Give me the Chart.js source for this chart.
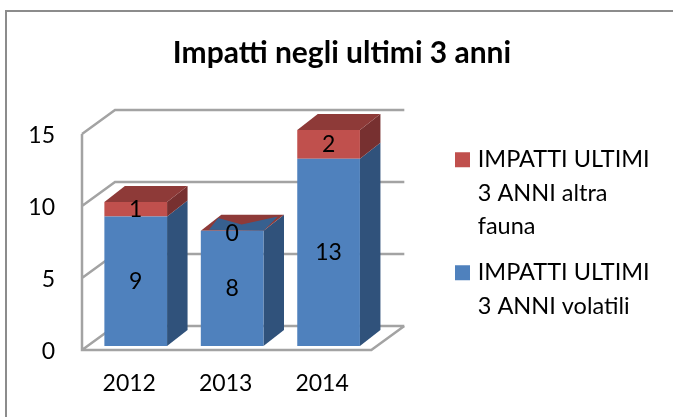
<!DOCTYPE html>
<html><head><meta charset="utf-8">
<style>html,body{margin:0;padding:0;background:#fff;overflow:hidden}canvas{display:block}</style>
<script src="https://cdn.jsdelivr.net/npm/chart.js@4"></script>
</head><body>
<div style="width:673px;height:417px"><canvas id="c" width="673" height="417"></canvas></div>
<script>
const titleText = 'Impatti negli ultimi 3 anni';
const categories = ['2012', '2013', '2014'];
const volatili = [9, 8, 13];
const altraFauna = [1, 0, 2];
const volatiliLegend = ['IMPATTI ULTIMI', '3 ANNI volatili'];
const altraLegend = ['IMPATTI ULTIMI', '3 ANNI altra', 'fauna'];
const yTicks = [0, 5, 10, 15];
const FONT = 'Lato, Carlito, Calibri, sans-serif';

const DEPTH_W = {dx: 33, dy: -24};   // wall depth
const DEPTH_B = {dx: 20.5, dy: -16}; // bar depth
const SHIFT = {dx: 5.5, dy: -4};     // bars sit inside the floor

function poly(ctx, pts, fill) {
  ctx.beginPath();
  pts.forEach((p, i) => i ? ctx.lineTo(p[0], p[1]) : ctx.moveTo(p[0], p[1]));
  ctx.closePath();
  ctx.fillStyle = fill;
  ctx.fill();
}
const three = {
  id: 'three',
  beforeDraw(chart) {
    const ctx = chart.ctx;
    ctx.save();
    ctx.strokeStyle = '#8c8c8c';
    ctx.lineWidth = 2;
    ctx.beginPath();
    ctx.moveTo(6, 417); ctx.lineTo(6, 11); ctx.lineTo(673, 11);
    ctx.stroke();
    ctx.restore();
  },
  beforeDatasetsDraw(chart) {
    const ctx = chart.ctx, {x, y} = chart.scales;
    const L = x.left, R = x.right;
    ctx.save();
    ctx.strokeStyle = '#a3a3a3';
    ctx.lineWidth = 2.5;
    ctx.lineJoin = 'miter';
    ctx.beginPath();
    yTicks.forEach(v => {
      const py = y.getPixelForValue(v);
      ctx.moveTo(L, py);
      ctx.lineTo(L + DEPTH_W.dx, py + DEPTH_W.dy);
      ctx.lineTo(R + DEPTH_W.dx, py + DEPTH_W.dy);
    });
    const p0 = y.getPixelForValue(0);
    ctx.moveTo(L, y.getPixelForValue(15));
    ctx.lineTo(L, p0);
    ctx.lineTo(R, p0);
    ctx.lineTo(R + DEPTH_W.dx, p0 + DEPTH_W.dy);
    ctx.stroke();
    ctx.restore();

    ctx.save();
    ctx.translate(SHIFT.dx, SHIFT.dy);
    const blue = chart.getDatasetMeta(0).data, red = chart.getDatasetMeta(1).data;
    blue.forEach((b, i) => {
      const r = red[i];
      const hw = b.width / 2, xl = b.x - hw, xr = b.x + hw;
      const {dx, dy} = DEPTH_B;
      poly(ctx, [[xr, b.base], [xr + dx, b.base + dy], [xr + dx, b.y + dy], [xr, b.y]], '#30527b');
      poly(ctx, [[xr, b.y], [xr + dx, b.y + dy], [xr + dx, r.y + dy], [xr, r.y]], '#773030');
      poly(ctx, [[xl, r.y], [xl + dx, r.y + dy], [xr + dx, r.y + dy], [xr, r.y]], '#8e3a38');
      if (r.y === b.y) {
        // zero-height segment: the blue cap shows through the red one
        poly(ctx, [[xl + .13 * b.width, r.y - 1], [xl + dx * .85, r.y + dy * .8], [xl + .52 * b.width + dx * .4, r.y + dy * .4],
                   [xr + dx * .7, r.y + dy * .9], [xr, r.y]], '#37608f');
      }
    });
  },
  afterDatasetsDraw(chart) {
    const ctx = chart.ctx;
    ctx.fillStyle = '#000';
    ctx.font = '23px ' + FONT;
    ctx.textAlign = 'center';
    ctx.textBaseline = 'middle';
    [[0, volatili], [1, altraFauna]].forEach(([d, vals]) => {
      chart.getDatasetMeta(d).data.forEach((b, i) => {
        const h = vals[i] === 0 ? 3 : 0;
        ctx.fillText(String(vals[i]), b.x, (b.y + b.base) / 2 + h);
      });
    });
    ctx.restore();
  },
  afterLayout(chart) {
    const l = chart.legend;
    if (!l) return;
    const w = l.right - l.left, h = l.bottom - l.top;
    l.left = 446; l.right = l.left + w;
    l.top = 135; l.bottom = l.top + h;
  }
};

new Chart(document.getElementById('c'), {
  type: 'bar',
  data: {
    labels: categories,
    datasets: [
      {label: volatiliLegend, data: volatili, backgroundColor: '#4f81bd', stack: 's', clip: false},
      {label: altraLegend, data: altraFauna, backgroundColor: '#c0504d', stack: 's', clip: false}
    ]
  },
  options: {
    responsive: false,
    animation: false,
    events: [],
    layout: {padding: {left: 18, right: 7, top: 0, bottom: 0}},
    datasets: {bar: {barPercentage: 0.65, categoryPercentage: 1}},
    scales: {
      x: {stacked: true, grid: {display: false}, border: {display: false},
          ticks: {color: '#000', font: {family: FONT, size: 23}, padding: 12, maxRotation: 0, labelOffset: -1},
          afterFit(s) { s.height = 67; }},
      y: {stacked: true, min: 0, max: 15, grid: {display: false}, border: {display: false},
          ticks: {color: '#000', font: {family: FONT, size: 23}, stepSize: 5, padding: 19, labelOffset: 2},
          afterFit(s) { s.width = 64; }},
      gap: {type: 'linear', position: 'right', display: true, min: 0, max: 1,
            grid: {display: false}, border: {display: false}, ticks: {display: false},
            afterFit(s) { s.width = 81; }}
    },
    plugins: {
      title: {display: true, text: titleText, color: '#000', padding: {top: 35, bottom: 63},
              font: {family: FONT, size: 30, weight: 'bold', lineHeight: 1.2}},
      legend: {display: true, position: 'right', align: 'start', reverse: true, maxWidth: 240,
               labels: {boxWidth: 7, boxHeight: 7, padding: 13, color: '#000',
                        font: {family: FONT, size: 23.5, lineHeight: 1.417},
                        generateLabels(c) {
                          return Chart.defaults.plugins.legend.labels.generateLabels(c)
                            .map(l => ({...l, lineWidth: 8, strokeStyle: l.fillStyle}));
                        }}},
      tooltip: {enabled: false}
    }
  },
  plugins: [three]
});
</script>
</body></html>
